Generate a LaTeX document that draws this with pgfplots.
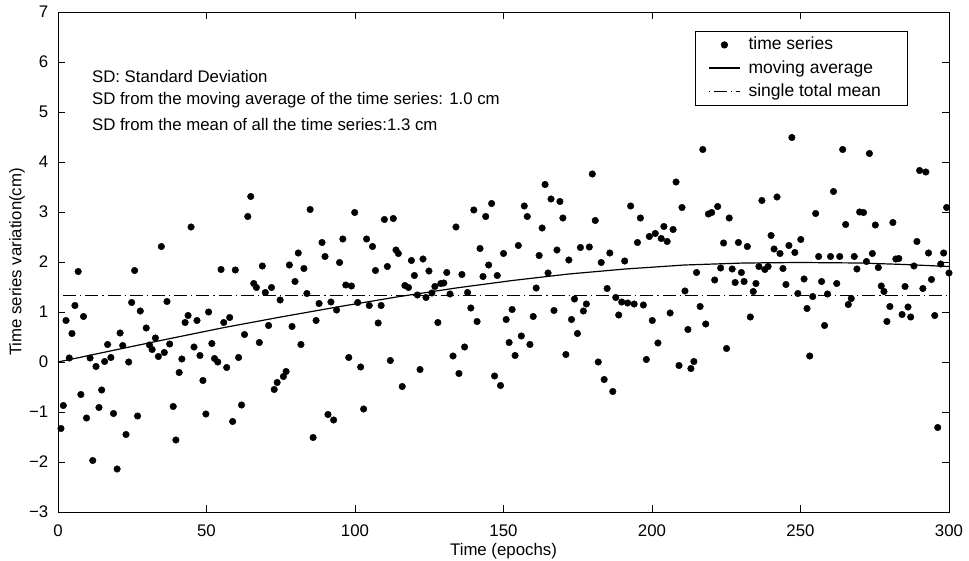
\documentclass[border=0pt]{standalone}
\usepackage{fontspec}
\setmainfont{Liberation Sans}
\usepackage{pgfplots}
\pgfplotsset{compat=1.18}
\pgfplotstableread{
x y
1.0 -1.33
1.8 -0.87
2.7 0.83
3.8 0.08
4.7 0.57
5.7 1.13
6.8 1.81
7.7 -0.65
8.6 0.91
9.6 -1.12
10.8 0.08
11.7 -1.97
12.8 -0.09
13.8 -0.91
14.7 -0.56
15.7 0.01
16.7 0.35
17.8 0.09
18.7 -1.03
19.9 -2.14
20.9 0.58
21.8 0.33
22.9 -1.45
23.8 0.0
24.8 1.19
25.8 1.83
26.8 -1.08
27.7 1.02
29.7 0.68
30.8 0.34
31.7 0.25
32.8 0.48
33.8 0.11
34.8 2.31
35.8 0.19
36.7 1.21
37.6 0.36
38.8 -0.89
39.7 -1.56
40.8 -0.21
41.7 0.06
42.8 0.79
43.8 0.93
44.8 2.70
45.8 0.30
46.8 0.83
47.8 0.13
48.8 -0.37
49.8 -1.04
50.7 1.00
51.8 0.37
52.7 0.07
53.8 0.00
54.9 1.85
55.8 0.79
56.8 -0.11
57.8 0.89
58.8 -1.19
59.7 1.84
60.8 0.09
61.8 -0.86
62.8 0.55
63.9 2.91
64.9 3.31
65.9 1.57
66.8 1.49
67.8 0.39
68.8 1.92
69.8 1.39
70.9 0.73
71.9 1.49
72.8 -0.55
73.8 -0.41
74.8 1.24
75.9 -0.29
76.8 -0.19
77.9 1.94
78.8 0.71
79.8 1.61
80.9 2.18
81.8 0.35
82.8 1.87
83.8 1.37
84.9 3.05
85.9 -1.51
86.9 0.83
87.9 1.17
88.9 2.39
89.9 2.11
90.9 -1.05
91.9 1.20
92.8 -1.16
93.8 1.04
94.8 1.99
95.9 2.46
96.9 1.54
97.9 0.09
98.8 1.52
99.9 2.99
100.9 1.19
101.9 -0.10
102.9 -0.94
103.9 2.46
104.8 1.13
105.9 2.31
106.9 1.83
107.8 0.78
108.8 1.13
109.9 2.85
110.9 1.91
111.9 0.03
112.9 2.87
113.8 2.24
114.6 2.17
115.9 -0.49
116.8 1.53
118.0 1.49
119.0 2.03
120.0 1.73
121.0 1.34
121.9 -0.15
122.9 2.06
123.9 1.29
124.9 1.82
125.9 1.38
126.9 1.51
127.9 0.79
128.9 1.57
129.9 1.58
130.9 1.79
132.0 1.36
133.0 0.12
134.0 2.70
135.0 -0.23
136.0 1.75
136.9 0.30
137.9 1.39
139.0 1.08
140.0 3.04
141.1 0.81
142.1 2.27
143.1 1.71
144.0 2.91
145.0 1.94
146.0 3.17
147.0 -0.28
147.9 1.73
149.0 -0.47
150.0 2.17
150.9 0.85
151.9 0.39
152.9 1.05
153.9 0.13
155.0 2.33
156.0 0.52
157.0 3.12
158.0 2.91
158.9 0.35
160.0 0.91
161.0 1.48
162.0 2.13
163.0 2.68
164.0 3.55
165.0 1.78
166.0 3.26
167.0 1.03
168.0 2.24
169.0 3.21
170.0 2.88
171.0 0.15
172.0 2.04
172.9 0.85
173.9 1.26
174.9 0.57
175.9 2.29
176.9 1.02
177.9 1.16
178.9 2.30
179.9 3.76
180.9 2.83
181.9 0.00
182.9 1.99
183.9 -0.35
184.9 1.47
185.8 2.18
186.8 -0.59
187.8 1.29
188.8 0.94
189.8 1.20
190.8 2.02
191.8 1.18
192.8 3.12
194.0 1.16
195.1 2.39
196.1 2.88
197.1 1.14
198.1 0.05
199.1 2.51
200.1 0.83
201.1 2.57
202.0 0.38
203.1 2.47
204.0 2.71
205.1 2.41
206.1 0.98
207.1 2.65
208.1 3.60
209.1 -0.07
210.1 3.09
211.1 1.42
212.1 0.65
213.1 -0.13
214.1 0.01
215.0 1.79
216.2 1.11
217.1 4.25
218.1 0.76
219.0 2.96
220.1 2.99
221.1 1.64
222.1 3.11
223.1 1.88
224.1 2.38
225.1 0.27
226.0 2.88
227.0 1.86
228.0 1.59
229.1 2.39
230.1 1.79
231.0 1.61
232.1 2.31
233.1 0.90
234.1 1.41
235.0 1.57
236.0 1.91
237.0 3.23
238.0 1.85
239.1 1.91
240.1 2.53
241.1 2.26
242.1 3.30
243.1 2.17
244.1 1.87
245.1 1.55
246.1 2.33
247.1 4.49
248.1 2.19
249.1 1.37
250.1 2.45
251.2 1.66
252.2 1.07
253.1 0.12
254.1 1.31
255.1 2.97
256.1 2.11
257.1 1.61
258.1 0.73
259.1 1.36
260.1 2.11
261.1 3.41
262.2 1.57
263.2 2.11
264.2 4.25
265.2 2.75
266.1 1.15
267.1 1.27
268.1 2.11
269.0 1.86
269.9 3.00
271.2 2.99
272.2 2.01
273.2 4.17
274.2 2.17
275.2 2.74
276.2 1.89
277.2 1.52
278.1 1.41
279.1 0.81
280.1 1.11
281.1 2.79
282.1 2.06
283.1 2.07
284.2 0.95
285.2 1.51
286.2 1.10
287.1 0.90
288.2 1.92
289.2 2.41
290.1 3.83
291.2 1.47
292.2 3.80
293.1 2.18
294.1 1.65
295.2 0.93
296.2 -1.31
297.2 1.96
298.2 2.18
299.2 3.09
300.0 1.78
}\series
\pgfplotstableread{
x y
0 0
20 0.25
37 0.46
56 0.69
75 0.90
95 1.11
114 1.30
134 1.48
153 1.63
172 1.76
191 1.86
211 1.94
231 1.98
250 1.99
270 1.98
285 1.95
300 1.91
}\movavg
\pgfplotstableread{
x y
0 1.33
300 1.33
}\meanline
\newcommand{\chartfont}{\fontsize{16.8}{19}\selectfont}
\newcommand{\legfont}{\fontsize{17.5}{20}\selectfont}
\begin{document}
\chartfont
\begin{tikzpicture}
\useasboundingbox (-58pt,-48pt) rectangle (911pt,512pt);
\begin{axis}[
  scale only axis, width=891pt, height=500pt,
  xmin=0, xmax=300, ymin=-3, ymax=7,
  xtick={0,50,...,300}, ytick={-3,-2,...,7},
  yticklabels={−3,−2,−1,0,1,2,3,4,5,6,7},
  /pgf/number format/assume math mode=true,
  tick align=inside, major tick length=7pt,
  axis line style={line width=0.8pt},
  tick style={line width=0.6pt, black},
  tick label style={font=\chartfont},
  xticklabel style={anchor=center, yshift=-19pt},
  yticklabel style={anchor=east, xshift=-4pt},
  xlabel={Time (epochs)}, ylabel={Time series variation(cm)},
  every axis x label/.style={at={(rel axis cs:0.5,0)}, yshift=-39pt, anchor=center},
  every axis y label/.style={at={(rel axis cs:0,0.5)}, xshift=-41pt, anchor=center, rotate=90},
  clip=false,
  legend style={at={(0.953,0.962)}, anchor=north east, draw=black, line width=0.6pt,
    font=\legfont, inner xsep=9pt, inner ysep=4pt, row sep=4pt},
  legend cell align=left,
  legend image code/.code={\path (-4pt,0pt) (37pt,0pt);\draw[mark repeat=2,mark phase=2,#1] plot coordinates {(0pt,0pt) (15.5pt,0pt) (31pt,0pt)};},
]
\addplot[only marks, mark=*, mark size=3.3pt, black] table {\series};
\addlegendentry{time series}
\addplot[black, line width=1.2pt] table {\movavg};
\addlegendentry{moving average}
\addplot[black, line width=1.2pt, dash pattern=on 1.2pt off 4pt on 13pt off 4pt] table {\meanline};
\addlegendentry{single total mean\hspace*{15pt}}
\node[anchor=west, inner sep=0pt] at (axis cs:11.4,5.72) {SD: Standard Deviation};
\node[anchor=west, inner sep=0pt] at (axis cs:11.4,5.24) {SD from the moving average of the time series: 1.0 cm};
\node[anchor=west, inner sep=0pt] at (axis cs:11.4,4.76) {SD from the mean of all the time series:1.3 cm};
\end{axis}
\end{tikzpicture}
\end{document}
